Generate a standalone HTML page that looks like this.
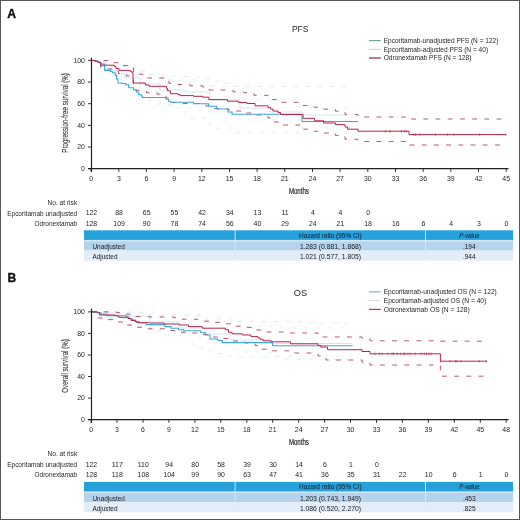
<!DOCTYPE html>
<html><head><meta charset="utf-8"><style>
html,body{margin:0;padding:0;background:#fff;overflow:hidden;width:520px;height:520px;}
svg{display:block;font-family:"Liberation Sans", sans-serif;filter:blur(0.3px);}
</style></head><body>
<svg width="520" height="520" viewBox="0 0 520 520">
<rect x="0.5" y="0.5" width="519" height="519" fill="#fff" stroke="#565656" stroke-width="1"/>
<text x="7.3" y="17.5" font-size="12.2" text-anchor="start" fill="#111" font-weight="bold" stroke="#111" stroke-width="0.35">A</text>
<text x="7.5" y="281.7" font-size="12.0" text-anchor="start" fill="#111" font-weight="bold" stroke="#111" stroke-width="0.35">B</text>
<text x="292.0" y="31.7" font-size="9.4" text-anchor="start" fill="#262626" font-weight="normal" textLength="16.4" lengthAdjust="spacingAndGlyphs" >PFS</text>
<line x1="369" y1="40.6" x2="380.8" y2="40.6" stroke="#6f9ba3" stroke-width="1.1"/>
<text x="383.7" y="43.0" font-size="7" text-anchor="start" fill="#262626" font-weight="normal" textLength="114.7" lengthAdjust="spacingAndGlyphs" >Epcoritamab-unadjusted PFS (N = 122)</text>
<line x1="369" y1="49.4" x2="380.8" y2="49.4" stroke="#cbcbe6" stroke-width="1.0"/>
<text x="383.7" y="51.8" font-size="7" text-anchor="start" fill="#262626" font-weight="normal" textLength="104.4" lengthAdjust="spacingAndGlyphs" >Epcoritamab-adjusted PFS (N = 40)</text>
<line x1="369" y1="58.0" x2="380.8" y2="58.0" stroke="#8c3a52" stroke-width="1.3"/>
<text x="383.7" y="60.4" font-size="7" text-anchor="start" fill="#262626" font-weight="normal" textLength="87.7" lengthAdjust="spacingAndGlyphs" >Odronextamab PFS (N = 128)</text>
<line x1="88" y1="168.7" x2="91.3" y2="168.7" stroke="#231f20" stroke-width="0.9"/>
<text x="84.9" y="171.1" font-size="6.9" text-anchor="end" fill="#262626" font-weight="normal" >0</text>
<line x1="88" y1="147.0" x2="91.3" y2="147.0" stroke="#231f20" stroke-width="0.9"/>
<text x="84.9" y="149.44" font-size="6.9" text-anchor="end" fill="#262626" font-weight="normal" >20</text>
<line x1="88" y1="125.4" x2="91.3" y2="125.4" stroke="#231f20" stroke-width="0.9"/>
<text x="84.9" y="127.78" font-size="6.9" text-anchor="end" fill="#262626" font-weight="normal" >40</text>
<line x1="88" y1="103.7" x2="91.3" y2="103.7" stroke="#231f20" stroke-width="0.9"/>
<text x="84.9" y="106.12" font-size="6.9" text-anchor="end" fill="#262626" font-weight="normal" >60</text>
<line x1="88" y1="82.1" x2="91.3" y2="82.1" stroke="#231f20" stroke-width="0.9"/>
<text x="84.9" y="84.46000000000001" font-size="6.9" text-anchor="end" fill="#262626" font-weight="normal" >80</text>
<line x1="88" y1="60.4" x2="91.3" y2="60.4" stroke="#231f20" stroke-width="0.9"/>
<text x="84.9" y="62.800000000000004" font-size="6.9" text-anchor="end" fill="#262626" font-weight="normal" >100</text>
<text transform="translate(68.0,112.9) rotate(-90)" x="0" y="0" font-size="9.4" text-anchor="middle" fill="#333" stroke="#333" stroke-width="0.1" textLength="79.6" lengthAdjust="spacingAndGlyphs">Progression-free survival (%)</text>
<line x1="91.1" y1="168.7" x2="91.1" y2="171.89999999999998" stroke="#231f20" stroke-width="0.9"/>
<text x="91.1" y="181.0" font-size="6.9" text-anchor="middle" fill="#262626" font-weight="normal" >0</text>
<line x1="118.8" y1="168.7" x2="118.8" y2="171.89999999999998" stroke="#231f20" stroke-width="0.9"/>
<text x="118.8" y="181.0" font-size="6.9" text-anchor="middle" fill="#262626" font-weight="normal" >3</text>
<line x1="146.4" y1="168.7" x2="146.4" y2="171.89999999999998" stroke="#231f20" stroke-width="0.9"/>
<text x="146.4" y="181.0" font-size="6.9" text-anchor="middle" fill="#262626" font-weight="normal" >6</text>
<line x1="174.1" y1="168.7" x2="174.1" y2="171.89999999999998" stroke="#231f20" stroke-width="0.9"/>
<text x="174.1" y="181.0" font-size="6.9" text-anchor="middle" fill="#262626" font-weight="normal" >9</text>
<line x1="201.8" y1="168.7" x2="201.8" y2="171.89999999999998" stroke="#231f20" stroke-width="0.9"/>
<text x="201.8" y="181.0" font-size="6.9" text-anchor="middle" fill="#262626" font-weight="normal" >12</text>
<line x1="229.5" y1="168.7" x2="229.5" y2="171.89999999999998" stroke="#231f20" stroke-width="0.9"/>
<text x="229.5" y="181.0" font-size="6.9" text-anchor="middle" fill="#262626" font-weight="normal" >15</text>
<line x1="257.1" y1="168.7" x2="257.1" y2="171.89999999999998" stroke="#231f20" stroke-width="0.9"/>
<text x="257.1" y="181.0" font-size="6.9" text-anchor="middle" fill="#262626" font-weight="normal" >18</text>
<line x1="284.8" y1="168.7" x2="284.8" y2="171.89999999999998" stroke="#231f20" stroke-width="0.9"/>
<text x="284.8" y="181.0" font-size="6.9" text-anchor="middle" fill="#262626" font-weight="normal" >21</text>
<line x1="312.5" y1="168.7" x2="312.5" y2="171.89999999999998" stroke="#231f20" stroke-width="0.9"/>
<text x="312.5" y="181.0" font-size="6.9" text-anchor="middle" fill="#262626" font-weight="normal" >24</text>
<line x1="340.1" y1="168.7" x2="340.1" y2="171.89999999999998" stroke="#231f20" stroke-width="0.9"/>
<text x="340.1" y="181.0" font-size="6.9" text-anchor="middle" fill="#262626" font-weight="normal" >27</text>
<line x1="367.8" y1="168.7" x2="367.8" y2="171.89999999999998" stroke="#231f20" stroke-width="0.9"/>
<text x="367.8" y="181.0" font-size="6.9" text-anchor="middle" fill="#262626" font-weight="normal" >30</text>
<line x1="395.5" y1="168.7" x2="395.5" y2="171.89999999999998" stroke="#231f20" stroke-width="0.9"/>
<text x="395.5" y="181.0" font-size="6.9" text-anchor="middle" fill="#262626" font-weight="normal" >33</text>
<line x1="423.2" y1="168.7" x2="423.2" y2="171.89999999999998" stroke="#231f20" stroke-width="0.9"/>
<text x="423.2" y="181.0" font-size="6.9" text-anchor="middle" fill="#262626" font-weight="normal" >36</text>
<line x1="450.8" y1="168.7" x2="450.8" y2="171.89999999999998" stroke="#231f20" stroke-width="0.9"/>
<text x="450.8" y="181.0" font-size="6.9" text-anchor="middle" fill="#262626" font-weight="normal" >39</text>
<line x1="478.5" y1="168.7" x2="478.5" y2="171.89999999999998" stroke="#231f20" stroke-width="0.9"/>
<text x="478.5" y="181.0" font-size="6.9" text-anchor="middle" fill="#262626" font-weight="normal" >42</text>
<line x1="506.2" y1="168.7" x2="506.2" y2="171.89999999999998" stroke="#231f20" stroke-width="0.9"/>
<text x="506.2" y="181.0" font-size="6.9" text-anchor="middle" fill="#262626" font-weight="normal" >45</text>
<text x="298.9" y="193.6" font-size="8.8" text-anchor="middle" fill="#262626" font-weight="normal" textLength="20" lengthAdjust="spacingAndGlyphs" stroke="#262626" stroke-width="0.2">Months</text>
<text x="77.2" y="205.0" font-size="6.6" text-anchor="end" fill="#262626" font-weight="normal" >No. at risk</text>
<text x="77.2" y="215.6" font-size="6.6" text-anchor="end" fill="#262626" font-weight="normal" textLength="70" lengthAdjust="spacingAndGlyphs" >Epcoritamab unadjusted</text>
<text x="77.2" y="225.6" font-size="6.6" text-anchor="end" fill="#262626" font-weight="normal" textLength="42.6" lengthAdjust="spacingAndGlyphs" >Odronextamab</text>
<text x="91.39999999999999" y="215.4" font-size="6.9" text-anchor="middle" fill="#262626" font-weight="normal" >122</text>
<text x="119.1" y="215.4" font-size="6.9" text-anchor="middle" fill="#262626" font-weight="normal" >88</text>
<text x="146.70000000000002" y="215.4" font-size="6.9" text-anchor="middle" fill="#262626" font-weight="normal" >65</text>
<text x="174.4" y="215.4" font-size="6.9" text-anchor="middle" fill="#262626" font-weight="normal" >55</text>
<text x="202.10000000000002" y="215.4" font-size="6.9" text-anchor="middle" fill="#262626" font-weight="normal" >42</text>
<text x="229.8" y="215.4" font-size="6.9" text-anchor="middle" fill="#262626" font-weight="normal" >34</text>
<text x="257.40000000000003" y="215.4" font-size="6.9" text-anchor="middle" fill="#262626" font-weight="normal" >13</text>
<text x="285.1" y="215.4" font-size="6.9" text-anchor="middle" fill="#262626" font-weight="normal" >11</text>
<text x="312.8" y="215.4" font-size="6.9" text-anchor="middle" fill="#262626" font-weight="normal" >4</text>
<text x="340.40000000000003" y="215.4" font-size="6.9" text-anchor="middle" fill="#262626" font-weight="normal" >4</text>
<text x="368.1" y="215.4" font-size="6.9" text-anchor="middle" fill="#262626" font-weight="normal" >0</text>
<text x="91.39999999999999" y="225.6" font-size="6.9" text-anchor="middle" fill="#262626" font-weight="normal" >128</text>
<text x="119.1" y="225.6" font-size="6.9" text-anchor="middle" fill="#262626" font-weight="normal" >109</text>
<text x="146.70000000000002" y="225.6" font-size="6.9" text-anchor="middle" fill="#262626" font-weight="normal" >90</text>
<text x="174.4" y="225.6" font-size="6.9" text-anchor="middle" fill="#262626" font-weight="normal" >78</text>
<text x="202.10000000000002" y="225.6" font-size="6.9" text-anchor="middle" fill="#262626" font-weight="normal" >74</text>
<text x="229.8" y="225.6" font-size="6.9" text-anchor="middle" fill="#262626" font-weight="normal" >56</text>
<text x="257.40000000000003" y="225.6" font-size="6.9" text-anchor="middle" fill="#262626" font-weight="normal" >40</text>
<text x="285.1" y="225.6" font-size="6.9" text-anchor="middle" fill="#262626" font-weight="normal" >29</text>
<text x="312.8" y="225.6" font-size="6.9" text-anchor="middle" fill="#262626" font-weight="normal" >24</text>
<text x="340.40000000000003" y="225.6" font-size="6.9" text-anchor="middle" fill="#262626" font-weight="normal" >21</text>
<text x="368.1" y="225.6" font-size="6.9" text-anchor="middle" fill="#262626" font-weight="normal" >18</text>
<text x="395.8" y="225.6" font-size="6.9" text-anchor="middle" fill="#262626" font-weight="normal" >16</text>
<text x="423.5" y="225.6" font-size="6.9" text-anchor="middle" fill="#262626" font-weight="normal" >6</text>
<text x="451.1" y="225.6" font-size="6.9" text-anchor="middle" fill="#262626" font-weight="normal" >4</text>
<text x="478.8" y="225.6" font-size="6.9" text-anchor="middle" fill="#262626" font-weight="normal" >3</text>
<text x="506.5" y="225.6" font-size="6.9" text-anchor="middle" fill="#262626" font-weight="normal" >0</text>
<rect x="84" y="230.3" width="429" height="9.9" fill="#27a1da"/>
<rect x="84" y="239.9" width="429" height="1.4" fill="#cfe6f6"/>
<rect x="84" y="241.3" width="429" height="9.3" fill="#b5d3ed"/>
<rect x="84" y="250.60000000000002" width="429" height="10.1" fill="#e3edf9"/>
<line x1="235.1" y1="230.3" x2="235.1" y2="260.5" stroke="#cfeefc" stroke-width="0.9"/>
<line x1="425.5" y1="230.3" x2="425.5" y2="260.5" stroke="#cfeefc" stroke-width="0.9"/>
<text x="330.3" y="237.70000000000002" font-size="6.7" text-anchor="middle" fill="#16304c" font-weight="normal" textLength="62.5" lengthAdjust="spacingAndGlyphs" stroke="#16304c" stroke-width="0.12">Hazard ratio (95% CI)</text>
<text x="469.4" y="237.70000000000002" font-size="6.8" text-anchor="middle" fill="#16304c" stroke="#16304c" stroke-width="0.12" textLength="20.5" lengthAdjust="spacingAndGlyphs"><tspan font-style="italic">P</tspan>-value</text>
<text x="92.5" y="249.00000000000003" font-size="6.8" text-anchor="start" fill="#222" font-weight="normal" textLength="32.3" lengthAdjust="spacingAndGlyphs" >Unadjusted</text>
<text x="330.5" y="249.00000000000003" font-size="6.6" text-anchor="middle" fill="#222" font-weight="normal" textLength="61.2" lengthAdjust="spacingAndGlyphs" >1.283 (0.881, 1.868)</text>
<text x="469.3" y="249.00000000000003" font-size="6.6" text-anchor="middle" fill="#222" font-weight="normal" >.194</text>
<text x="92.5" y="259.0" font-size="6.8" text-anchor="start" fill="#222" font-weight="normal" textLength="25.0" lengthAdjust="spacingAndGlyphs" >Adjusted</text>
<text x="330.5" y="259.0" font-size="6.6" text-anchor="middle" fill="#222" font-weight="normal" textLength="61.2" lengthAdjust="spacingAndGlyphs" >1.021 (0.577, 1.805)</text>
<text x="469.3" y="259.0" font-size="6.6" text-anchor="middle" fill="#222" font-weight="normal" >.944</text>
<text x="293.8" y="295.9" font-size="9.4" text-anchor="start" fill="#262626" font-weight="normal" textLength="13.3" lengthAdjust="spacingAndGlyphs" >OS</text>
<line x1="369" y1="291.8" x2="380.8" y2="291.8" stroke="#9fc3dc" stroke-width="1.6"/>
<text x="383.7" y="294.2" font-size="7" text-anchor="start" fill="#262626" font-weight="normal" textLength="113.1" lengthAdjust="spacingAndGlyphs" >Epcoritamab-unadjusted OS (N = 122)</text>
<line x1="369" y1="300.4" x2="380.8" y2="300.4" stroke="#d6d8e2" stroke-width="1.0"/>
<text x="383.7" y="302.79999999999995" font-size="7" text-anchor="start" fill="#262626" font-weight="normal" textLength="102.6" lengthAdjust="spacingAndGlyphs" >Epcoritamab-adjusted OS (N = 40)</text>
<line x1="369" y1="309.4" x2="380.8" y2="309.4" stroke="#a83a5a" stroke-width="1.2"/>
<text x="383.7" y="311.79999999999995" font-size="7" text-anchor="start" fill="#262626" font-weight="normal" textLength="86.0" lengthAdjust="spacingAndGlyphs" >Odronextamab OS (N = 128)</text>
<line x1="88" y1="419.6" x2="91.3" y2="419.6" stroke="#231f20" stroke-width="0.9"/>
<text x="84.9" y="422.0" font-size="6.9" text-anchor="end" fill="#262626" font-weight="normal" >0</text>
<line x1="88" y1="398.1" x2="91.3" y2="398.1" stroke="#231f20" stroke-width="0.9"/>
<text x="84.9" y="400.46" font-size="6.9" text-anchor="end" fill="#262626" font-weight="normal" >20</text>
<line x1="88" y1="376.5" x2="91.3" y2="376.5" stroke="#231f20" stroke-width="0.9"/>
<text x="84.9" y="378.91999999999996" font-size="6.9" text-anchor="end" fill="#262626" font-weight="normal" >40</text>
<line x1="88" y1="355.0" x2="91.3" y2="355.0" stroke="#231f20" stroke-width="0.9"/>
<text x="84.9" y="357.38" font-size="6.9" text-anchor="end" fill="#262626" font-weight="normal" >60</text>
<line x1="88" y1="333.4" x2="91.3" y2="333.4" stroke="#231f20" stroke-width="0.9"/>
<text x="84.9" y="335.84" font-size="6.9" text-anchor="end" fill="#262626" font-weight="normal" >80</text>
<line x1="88" y1="311.9" x2="91.3" y2="311.9" stroke="#231f20" stroke-width="0.9"/>
<text x="84.9" y="314.29999999999995" font-size="6.9" text-anchor="end" fill="#262626" font-weight="normal" >100</text>
<text transform="translate(68.0,366.0) rotate(-90)" x="0" y="0" font-size="9.4" text-anchor="middle" fill="#333" stroke="#333" stroke-width="0.1" textLength="53.5" lengthAdjust="spacingAndGlyphs">Overall survival (%)</text>
<line x1="91.1" y1="419.6" x2="91.1" y2="422.8" stroke="#231f20" stroke-width="0.9"/>
<text x="91.1" y="431.90000000000003" font-size="6.9" text-anchor="middle" fill="#262626" font-weight="normal" >0</text>
<line x1="117.0" y1="419.6" x2="117.0" y2="422.8" stroke="#231f20" stroke-width="0.9"/>
<text x="117.0" y="431.90000000000003" font-size="6.9" text-anchor="middle" fill="#262626" font-weight="normal" >3</text>
<line x1="143.0" y1="419.6" x2="143.0" y2="422.8" stroke="#231f20" stroke-width="0.9"/>
<text x="143.0" y="431.90000000000003" font-size="6.9" text-anchor="middle" fill="#262626" font-weight="normal" >6</text>
<line x1="168.9" y1="419.6" x2="168.9" y2="422.8" stroke="#231f20" stroke-width="0.9"/>
<text x="168.9" y="431.90000000000003" font-size="6.9" text-anchor="middle" fill="#262626" font-weight="normal" >9</text>
<line x1="194.9" y1="419.6" x2="194.9" y2="422.8" stroke="#231f20" stroke-width="0.9"/>
<text x="194.9" y="431.90000000000003" font-size="6.9" text-anchor="middle" fill="#262626" font-weight="normal" >12</text>
<line x1="220.8" y1="419.6" x2="220.8" y2="422.8" stroke="#231f20" stroke-width="0.9"/>
<text x="220.8" y="431.90000000000003" font-size="6.9" text-anchor="middle" fill="#262626" font-weight="normal" >15</text>
<line x1="246.8" y1="419.6" x2="246.8" y2="422.8" stroke="#231f20" stroke-width="0.9"/>
<text x="246.8" y="431.90000000000003" font-size="6.9" text-anchor="middle" fill="#262626" font-weight="normal" >18</text>
<line x1="272.7" y1="419.6" x2="272.7" y2="422.8" stroke="#231f20" stroke-width="0.9"/>
<text x="272.7" y="431.90000000000003" font-size="6.9" text-anchor="middle" fill="#262626" font-weight="normal" >21</text>
<line x1="298.7" y1="419.6" x2="298.7" y2="422.8" stroke="#231f20" stroke-width="0.9"/>
<text x="298.7" y="431.90000000000003" font-size="6.9" text-anchor="middle" fill="#262626" font-weight="normal" >24</text>
<line x1="324.6" y1="419.6" x2="324.6" y2="422.8" stroke="#231f20" stroke-width="0.9"/>
<text x="324.6" y="431.90000000000003" font-size="6.9" text-anchor="middle" fill="#262626" font-weight="normal" >27</text>
<line x1="350.5" y1="419.6" x2="350.5" y2="422.8" stroke="#231f20" stroke-width="0.9"/>
<text x="350.5" y="431.90000000000003" font-size="6.9" text-anchor="middle" fill="#262626" font-weight="normal" >30</text>
<line x1="376.5" y1="419.6" x2="376.5" y2="422.8" stroke="#231f20" stroke-width="0.9"/>
<text x="376.5" y="431.90000000000003" font-size="6.9" text-anchor="middle" fill="#262626" font-weight="normal" >33</text>
<line x1="402.4" y1="419.6" x2="402.4" y2="422.8" stroke="#231f20" stroke-width="0.9"/>
<text x="402.4" y="431.90000000000003" font-size="6.9" text-anchor="middle" fill="#262626" font-weight="normal" >36</text>
<line x1="428.4" y1="419.6" x2="428.4" y2="422.8" stroke="#231f20" stroke-width="0.9"/>
<text x="428.4" y="431.90000000000003" font-size="6.9" text-anchor="middle" fill="#262626" font-weight="normal" >39</text>
<line x1="454.3" y1="419.6" x2="454.3" y2="422.8" stroke="#231f20" stroke-width="0.9"/>
<text x="454.3" y="431.90000000000003" font-size="6.9" text-anchor="middle" fill="#262626" font-weight="normal" >42</text>
<line x1="480.3" y1="419.6" x2="480.3" y2="422.8" stroke="#231f20" stroke-width="0.9"/>
<text x="480.3" y="431.90000000000003" font-size="6.9" text-anchor="middle" fill="#262626" font-weight="normal" >45</text>
<line x1="506.2" y1="419.6" x2="506.2" y2="422.8" stroke="#231f20" stroke-width="0.9"/>
<text x="506.2" y="431.90000000000003" font-size="6.9" text-anchor="middle" fill="#262626" font-weight="normal" >48</text>
<text x="298.9" y="444.5" font-size="8.8" text-anchor="middle" fill="#262626" font-weight="normal" textLength="20" lengthAdjust="spacingAndGlyphs" stroke="#262626" stroke-width="0.2">Months</text>
<text x="77.2" y="456.3" font-size="6.6" text-anchor="end" fill="#262626" font-weight="normal" >No. at risk</text>
<text x="77.2" y="466.9" font-size="6.6" text-anchor="end" fill="#262626" font-weight="normal" textLength="70" lengthAdjust="spacingAndGlyphs" >Epcoritamab unadjusted</text>
<text x="77.2" y="476.9" font-size="6.6" text-anchor="end" fill="#262626" font-weight="normal" textLength="42.6" lengthAdjust="spacingAndGlyphs" >Odronextamab</text>
<text x="91.39999999999999" y="466.70000000000005" font-size="6.9" text-anchor="middle" fill="#262626" font-weight="normal" >122</text>
<text x="117.3" y="466.70000000000005" font-size="6.9" text-anchor="middle" fill="#262626" font-weight="normal" >117</text>
<text x="143.3" y="466.70000000000005" font-size="6.9" text-anchor="middle" fill="#262626" font-weight="normal" >110</text>
<text x="169.20000000000002" y="466.70000000000005" font-size="6.9" text-anchor="middle" fill="#262626" font-weight="normal" >94</text>
<text x="195.20000000000002" y="466.70000000000005" font-size="6.9" text-anchor="middle" fill="#262626" font-weight="normal" >80</text>
<text x="221.10000000000002" y="466.70000000000005" font-size="6.9" text-anchor="middle" fill="#262626" font-weight="normal" >58</text>
<text x="247.10000000000002" y="466.70000000000005" font-size="6.9" text-anchor="middle" fill="#262626" font-weight="normal" >39</text>
<text x="273.0" y="466.70000000000005" font-size="6.9" text-anchor="middle" fill="#262626" font-weight="normal" >30</text>
<text x="299.0" y="466.70000000000005" font-size="6.9" text-anchor="middle" fill="#262626" font-weight="normal" >14</text>
<text x="324.90000000000003" y="466.70000000000005" font-size="6.9" text-anchor="middle" fill="#262626" font-weight="normal" >6</text>
<text x="350.8" y="466.70000000000005" font-size="6.9" text-anchor="middle" fill="#262626" font-weight="normal" >1</text>
<text x="376.8" y="466.70000000000005" font-size="6.9" text-anchor="middle" fill="#262626" font-weight="normal" >0</text>
<text x="91.39999999999999" y="476.9" font-size="6.9" text-anchor="middle" fill="#262626" font-weight="normal" >128</text>
<text x="117.3" y="476.9" font-size="6.9" text-anchor="middle" fill="#262626" font-weight="normal" >118</text>
<text x="143.3" y="476.9" font-size="6.9" text-anchor="middle" fill="#262626" font-weight="normal" >108</text>
<text x="169.20000000000002" y="476.9" font-size="6.9" text-anchor="middle" fill="#262626" font-weight="normal" >104</text>
<text x="195.20000000000002" y="476.9" font-size="6.9" text-anchor="middle" fill="#262626" font-weight="normal" >99</text>
<text x="221.10000000000002" y="476.9" font-size="6.9" text-anchor="middle" fill="#262626" font-weight="normal" >90</text>
<text x="247.10000000000002" y="476.9" font-size="6.9" text-anchor="middle" fill="#262626" font-weight="normal" >63</text>
<text x="273.0" y="476.9" font-size="6.9" text-anchor="middle" fill="#262626" font-weight="normal" >47</text>
<text x="299.0" y="476.9" font-size="6.9" text-anchor="middle" fill="#262626" font-weight="normal" >41</text>
<text x="324.90000000000003" y="476.9" font-size="6.9" text-anchor="middle" fill="#262626" font-weight="normal" >36</text>
<text x="350.8" y="476.9" font-size="6.9" text-anchor="middle" fill="#262626" font-weight="normal" >35</text>
<text x="376.8" y="476.9" font-size="6.9" text-anchor="middle" fill="#262626" font-weight="normal" >31</text>
<text x="402.7" y="476.9" font-size="6.9" text-anchor="middle" fill="#262626" font-weight="normal" >22</text>
<text x="428.7" y="476.9" font-size="6.9" text-anchor="middle" fill="#262626" font-weight="normal" >10</text>
<text x="454.6" y="476.9" font-size="6.9" text-anchor="middle" fill="#262626" font-weight="normal" >6</text>
<text x="480.6" y="476.9" font-size="6.9" text-anchor="middle" fill="#262626" font-weight="normal" >1</text>
<text x="506.5" y="476.9" font-size="6.9" text-anchor="middle" fill="#262626" font-weight="normal" >0</text>
<rect x="84" y="481.9" width="429" height="9.9" fill="#27a1da"/>
<rect x="84" y="491.5" width="429" height="1.4" fill="#cfe6f6"/>
<rect x="84" y="492.9" width="429" height="9.3" fill="#b5d3ed"/>
<rect x="84" y="502.2" width="429" height="10.1" fill="#e3edf9"/>
<line x1="235.1" y1="481.9" x2="235.1" y2="512.1" stroke="#cfeefc" stroke-width="0.9"/>
<line x1="425.5" y1="481.9" x2="425.5" y2="512.1" stroke="#cfeefc" stroke-width="0.9"/>
<text x="330.3" y="489.29999999999995" font-size="6.7" text-anchor="middle" fill="#16304c" font-weight="normal" textLength="62.5" lengthAdjust="spacingAndGlyphs" stroke="#16304c" stroke-width="0.12">Hazard ratio (95% CI)</text>
<text x="469.4" y="489.29999999999995" font-size="6.8" text-anchor="middle" fill="#16304c" stroke="#16304c" stroke-width="0.12" textLength="20.5" lengthAdjust="spacingAndGlyphs"><tspan font-style="italic">P</tspan>-value</text>
<text x="92.5" y="500.59999999999997" font-size="6.8" text-anchor="start" fill="#222" font-weight="normal" textLength="32.3" lengthAdjust="spacingAndGlyphs" >Unadjusted</text>
<text x="330.5" y="500.59999999999997" font-size="6.6" text-anchor="middle" fill="#222" font-weight="normal" textLength="61.2" lengthAdjust="spacingAndGlyphs" >1.203 (0.743, 1.949)</text>
<text x="469.3" y="500.59999999999997" font-size="6.6" text-anchor="middle" fill="#222" font-weight="normal" >.453</text>
<text x="92.5" y="510.59999999999997" font-size="6.8" text-anchor="start" fill="#222" font-weight="normal" textLength="25.0" lengthAdjust="spacingAndGlyphs" >Adjusted</text>
<text x="330.5" y="510.59999999999997" font-size="6.6" text-anchor="middle" fill="#222" font-weight="normal" textLength="61.2" lengthAdjust="spacingAndGlyphs" >1.086 (0.520, 2.270)</text>
<text x="469.3" y="510.59999999999997" font-size="6.6" text-anchor="middle" fill="#222" font-weight="normal" >.825</text>
<polyline points="91.5,60.5 104.0,60.5 104.0,61.5 115.0,61.5 115.0,64.0 125.0,64.0 125.0,67.5 135.0,67.5 135.0,71.0 150.0,71.0 150.0,74.4 163.0,74.4 163.0,76.0 178.0,76.0 178.0,76.5 188.0,76.5 188.0,77.0 199.0,77.0 199.0,78.3 209.0,78.3 209.0,81.0 219.0,81.0 219.0,83.0 234.0,83.0 234.0,86.5 354.0,86.5 354.0,86.5" fill="none" stroke="#e4e8f1" stroke-width="0.9" stroke-dasharray="4.5,7.5" stroke-opacity="1"/>
<polyline points="91.5,60.5 100.0,60.5 100.0,68.0 112.0,68.0 112.0,76.0 125.0,76.0 125.0,84.0 140.0,84.0 140.0,92.0 160.0,92.0 160.0,105.0 185.0,105.0 185.0,118.0 210.0,118.0 210.0,128.0 234.0,128.0 234.0,132.7 316.0,132.7 316.0,132.7" fill="none" stroke="#e4e8f1" stroke-width="0.9" stroke-dasharray="4.5,7.5" stroke-opacity="1"/>
<polyline points="91.5,60.5 104.0,60.5 104.0,62.0 115.0,62.0 115.0,66.0 130.0,66.0 130.0,72.0 150.0,72.0 150.0,78.0 170.0,78.0 170.0,80.0 200.0,80.0 200.0,86.0 240.0,86.0 240.0,100.0 300.0,100.0 300.0,108.0 358.0,108.0 358.0,108.0" fill="none" stroke="#cdeef9" stroke-width="0.9" stroke-dasharray="4.5,7.5" stroke-opacity="0.8"/>
<polyline points="91.5,60.5 104.0,60.5 104.0,66.0 115.0,66.0 115.0,80.0 130.0,80.0 130.0,92.0 150.0,92.0 150.0,104.0 170.0,104.0 170.0,108.0 200.0,108.0 200.0,112.0 240.0,112.0 240.0,120.0 300.0,120.0 300.0,128.0 358.0,128.0 358.0,135.0" fill="none" stroke="#cdeef9" stroke-width="0.9" stroke-dasharray="4.5,7.5" stroke-opacity="0.8"/>
<polyline points="91.5,60.5 100.0,60.5 100.0,63.0 106.0,63.0 106.0,70.0 116.0,70.0 116.0,74.0 125.0,74.0 125.0,78.0 140.0,78.0 140.0,84.0 160.0,84.0 160.0,90.0 185.0,90.0 185.0,92.0 210.0,92.0 210.0,100.0 240.0,100.0 240.0,108.0 270.0,108.0 270.0,112.0 303.0,112.0 303.0,115.0 346.0,115.0 346.0,115.0" fill="none" stroke="#cfe3f1" stroke-width="0.9" stroke-opacity="1"/>
<polyline points="91.5,60.5 108.0,60.5 108.0,61.5 113.0,61.5 113.0,62.7 118.0,62.7 118.0,64.5 121.0,64.5 121.0,65.5 130.0,65.5 130.0,68.0 133.5,68.0 133.5,74.2 143.0,74.2 143.0,76.5 147.0,76.5 147.0,78.0 166.0,78.0 166.0,81.0 169.0,81.0 169.0,83.5 178.0,83.5 178.0,84.5 190.0,84.5 190.0,85.8 203.0,85.8 203.0,87.3 209.0,87.3 209.0,90.0 226.0,90.0 226.0,91.0 234.0,91.0 234.0,92.0 244.0,92.0 244.0,92.7 254.0,92.7 254.0,95.3 268.0,95.3 268.0,96.5 272.0,96.5 272.0,99.6 280.5,99.6 280.5,102.3 303.0,102.3 303.0,105.5 314.0,105.5 314.0,107.2 323.5,107.2 323.5,109.2 335.5,109.2 335.5,111.2 345.0,111.2 345.0,114.6 358.0,114.6 358.0,117.0 409.0,117.0 409.0,119.0 506.0,119.0 506.0,119.0" fill="none" stroke="#b0385a" stroke-width="0.85" stroke-dasharray="4.8,7.4" stroke-opacity="1"/>
<polyline points="91.5,60.5 96.0,60.5 96.0,62.0 100.5,62.0 100.5,67.0 106.0,67.0 106.0,69.0 113.0,69.0 113.0,71.0 118.5,71.0 118.5,73.5 126.5,73.5 126.5,76.0 131.0,76.0 131.0,78.0 133.5,78.0 133.5,88.0 135.7,88.0 135.7,90.4 146.5,90.4 146.5,92.7 157.0,92.7 157.0,94.2 166.0,94.2 166.0,98.0 169.0,98.0 169.0,102.5 176.0,102.5 176.0,103.5 206.0,103.5 206.0,106.0 209.0,106.0 209.0,108.5 228.0,108.5 228.0,110.0 234.0,110.0 234.0,111.0 244.0,111.0 244.0,113.0 254.0,113.0 254.0,115.0 268.0,115.0 268.0,118.0 272.0,118.0 272.0,122.0 280.5,122.0 280.5,125.0 303.0,125.0 303.0,129.2 314.0,129.2 314.0,131.2 323.5,131.2 323.5,133.0 335.5,133.0 335.5,135.4 345.0,135.4 345.0,139.2 358.0,139.2 358.0,141.5 409.0,141.5 409.0,145.0 506.0,145.0 506.0,145.0" fill="none" stroke="#b0385a" stroke-width="0.85" stroke-dasharray="4.8,7.4" stroke-opacity="1"/>
<polyline points="91.5,60.5 95.0,60.5 95.0,61.2 98.0,61.2 98.0,62.3 101.0,62.3 101.0,64.0 104.3,64.0 104.3,66.6 104.6,66.6 104.6,70.4 110.4,70.4 110.4,71.5 112.3,71.5 112.3,72.8 115.2,72.8 115.2,75.2 116.6,75.2 116.6,79.0 118.0,79.0 118.0,83.0 122.0,83.0 122.0,83.5 125.8,83.5 125.8,84.8 128.7,84.8 128.7,87.7 133.5,87.7 133.5,89.7 136.3,89.7 136.3,92.0 138.7,92.0 138.7,94.5 141.0,94.5 141.0,96.0 142.5,96.0 142.5,97.5 166.0,97.5 166.0,99.2 168.5,99.2 168.5,101.3 170.4,101.3 170.4,102.3 193.5,102.3 193.5,103.8 208.5,103.8 208.5,106.2 216.5,106.2 216.5,109.0 228.0,109.0 228.0,112.0 232.0,112.0 232.0,114.2 302.0,114.2 302.0,121.5 358.0,121.5 358.0,121.5" fill="none" stroke="#3fa6d6" stroke-width="1.1" stroke-opacity="1"/>
<polyline points="91.5,60.5 95.0,60.5 95.0,61.2 98.0,61.2 98.0,62.3 100.0,62.3 100.0,63.7 101.0,63.7 101.0,65.2 114.2,65.2 114.2,66.5 116.0,66.5 116.0,68.5 119.0,68.5 119.0,70.4 130.6,70.4 130.6,71.5 132.0,71.5 132.0,72.8 133.0,72.8 133.0,83.0 145.4,83.0 145.4,85.0 149.2,85.0 149.2,86.3 166.5,86.3 166.5,88.5 167.5,88.5 167.5,90.8 170.4,90.8 170.4,93.7 178.0,93.7 178.0,94.6 180.0,94.6 180.0,95.6 193.5,95.6 193.5,96.3 203.0,96.3 203.0,97.2 208.8,97.2 208.8,99.6 227.5,99.6 227.5,101.2 238.5,101.2 238.5,102.5 247.0,102.5 247.0,103.5 255.0,103.5 255.0,105.8 268.0,105.8 268.0,107.5 270.5,107.5 270.5,109.0 273.0,109.0 273.0,111.0 278.0,111.0 278.0,112.5 280.5,112.5 280.5,114.5 303.0,114.5 303.0,118.3 314.6,118.3 314.6,120.8 323.5,120.8 323.5,123.0 335.5,123.0 335.5,124.6 345.0,124.6 345.0,127.0 347.5,127.0 347.5,129.2 358.0,129.2 358.0,131.2 409.0,131.2 409.0,134.6 506.0,134.6 506.0,134.6" fill="none" stroke="#bb2446" stroke-width="1.0" stroke-opacity="1"/>
<line x1="385.4" y1="129.89999999999998" x2="385.4" y2="132.5" stroke="#bb2446" stroke-width="0.6"/>
<line x1="390" y1="129.89999999999998" x2="390" y2="132.5" stroke="#bb2446" stroke-width="0.6"/>
<line x1="401.5" y1="129.89999999999998" x2="401.5" y2="132.5" stroke="#bb2446" stroke-width="0.6"/>
<line x1="404.6" y1="129.89999999999998" x2="404.6" y2="132.5" stroke="#bb2446" stroke-width="0.6"/>
<line x1="406.2" y1="129.89999999999998" x2="406.2" y2="132.5" stroke="#bb2446" stroke-width="0.6"/>
<line x1="413.8" y1="133.29999999999998" x2="413.8" y2="135.9" stroke="#bb2446" stroke-width="0.6"/>
<line x1="415.4" y1="133.29999999999998" x2="415.4" y2="135.9" stroke="#bb2446" stroke-width="0.6"/>
<line x1="420" y1="133.29999999999998" x2="420" y2="135.9" stroke="#bb2446" stroke-width="0.6"/>
<line x1="435.4" y1="133.29999999999998" x2="435.4" y2="135.9" stroke="#bb2446" stroke-width="0.6"/>
<line x1="447.4" y1="133.29999999999998" x2="447.4" y2="135.9" stroke="#bb2446" stroke-width="0.6"/>
<line x1="454.2" y1="133.29999999999998" x2="454.2" y2="135.9" stroke="#bb2446" stroke-width="0.6"/>
<line x1="479.7" y1="133.29999999999998" x2="479.7" y2="135.9" stroke="#bb2446" stroke-width="0.6"/>
<line x1="505.8" y1="133.29999999999998" x2="505.8" y2="135.9" stroke="#bb2446" stroke-width="0.6"/>
<polyline points="91.5,311.9 120.0,311.9 120.0,312.0 160.0,312.0 160.0,316.0 200.0,316.0 200.0,318.0 235.0,318.0 235.0,321.5 305.0,321.5 305.0,323.0 352.0,323.0 352.0,323.0" fill="none" stroke="#e4e8f1" stroke-width="0.9" stroke-dasharray="4.5,7.5" stroke-opacity="1"/>
<polyline points="91.5,311.9 100.0,311.9 100.0,318.0 130.0,318.0 130.0,326.0 160.0,326.0 160.0,335.0 190.0,335.0 190.0,344.0 202.0,344.0 202.0,350.8 212.0,350.8 212.0,353.5 221.5,353.5 221.5,356.0 235.0,356.0 235.0,357.0 280.0,357.0 280.0,359.2 352.0,359.2 352.0,359.2" fill="none" stroke="#e4e8f1" stroke-width="0.9" stroke-dasharray="4.5,7.5" stroke-opacity="1"/>
<polyline points="91.5,311.9 110.0,311.9 110.0,312.5 150.0,312.5 150.0,314.5 200.0,314.5 200.0,320.0 240.0,320.0 240.0,326.0 272.0,326.0 272.0,328.0 352.0,328.0 352.0,328.0" fill="none" stroke="#cdeef9" stroke-width="0.9" stroke-dasharray="4.5,7.5" stroke-opacity="0.8"/>
<polyline points="91.5,311.9 110.0,311.9 110.0,318.0 150.0,318.0 150.0,331.0 200.0,331.0 200.0,341.0 240.0,341.0 240.0,352.0 272.0,352.0 272.0,356.0 352.0,356.0 352.0,356.0" fill="none" stroke="#cdeef9" stroke-width="0.9" stroke-dasharray="4.5,7.5" stroke-opacity="0.8"/>
<polyline points="91.5,311.9 100.0,311.9 100.0,313.0 120.0,313.0 120.0,316.0 150.0,316.0 150.0,322.0 180.0,322.0 180.0,328.0 205.0,328.0 205.0,334.0 230.0,334.0 230.0,340.0 272.0,340.0 272.0,343.5 352.0,343.5 352.0,343.5" fill="none" stroke="#cfe3f1" stroke-width="0.9" stroke-opacity="1"/>
<polyline points="91.5,311.9 116.5,311.9 116.5,312.7 125.0,312.7 125.0,314.2 133.0,314.2 133.0,316.5 149.5,316.5 149.5,317.0 173.8,317.0 173.8,317.7 182.0,317.7 182.0,319.2 197.0,319.2 197.0,319.7 203.0,319.7 203.0,321.2 214.0,321.2 214.0,322.3 226.0,322.3 226.0,323.8 232.0,323.8 232.0,326.2 245.0,326.2 245.0,327.4 256.0,327.4 256.0,330.0 265.0,330.0 265.0,332.0 290.5,332.0 290.5,333.0 318.0,333.0 318.0,333.8 322.0,333.8 322.0,337.0 362.0,337.0 362.0,338.5 370.0,338.5 370.0,340.8 440.4,340.8 440.4,341.2 487.0,341.2 487.0,341.2" fill="none" stroke="#b0385a" stroke-width="0.85" stroke-dasharray="4.8,7.4" stroke-opacity="1"/>
<polyline points="91.5,311.9 97.5,311.9 97.5,318.0 108.0,318.0 108.0,319.6 116.0,319.6 116.0,322.0 127.0,322.0 127.0,325.0 137.0,325.0 137.0,327.3 147.0,327.3 147.0,328.8 165.0,328.8 165.0,330.5 175.0,330.5 175.0,332.3 190.0,332.3 190.0,333.0 200.0,333.0 200.0,334.6 211.0,334.6 211.0,337.0 222.0,337.0 222.0,338.5 232.0,338.5 232.0,341.0 245.0,341.0 245.0,343.0 255.0,343.0 255.0,345.4 262.0,345.4 262.0,349.2 272.0,349.2 272.0,350.8 290.5,350.8 290.5,353.0 318.0,353.0 318.0,356.0 326.0,356.0 326.0,360.0 362.0,360.0 362.0,362.3 370.0,362.3 370.0,365.0 440.4,365.0 440.4,376.2 487.0,376.2 487.0,376.2" fill="none" stroke="#b0385a" stroke-width="0.85" stroke-dasharray="4.8,7.4" stroke-opacity="1"/>
<polyline points="91.5,311.9 97.2,311.9 97.2,312.7 101.0,312.7 101.0,314.2 107.0,314.2 107.0,315.8 126.5,315.8 126.5,317.0 129.0,317.0 129.0,318.5 132.0,318.5 132.0,320.0 135.0,320.0 135.0,321.5 139.0,321.5 139.0,322.7 146.0,322.7 146.0,324.6 165.0,324.6 165.0,326.6 171.0,326.6 171.0,328.2 178.5,328.2 178.5,329.7 183.8,329.7 183.8,330.8 200.8,330.8 200.8,332.8 205.4,332.8 205.4,335.0 210.0,335.0 210.0,339.0 217.7,339.0 217.7,340.5 222.3,340.5 222.3,342.6 272.5,342.6 272.5,345.8 352.7,345.8 352.7,345.8" fill="none" stroke="#3fa6d6" stroke-width="1.1" stroke-opacity="1"/>
<polyline points="91.5,311.9 97.2,311.9 97.2,312.7 99.5,312.7 99.5,315.0 115.7,315.0 115.7,315.8 118.8,315.8 118.8,317.3 128.0,317.3 128.0,318.5 131.0,318.5 131.0,320.4 135.7,320.4 135.7,322.0 137.0,322.0 137.0,322.7 149.5,322.7 149.5,323.0 163.8,323.0 163.8,324.0 179.2,324.0 179.2,325.0 188.5,325.0 188.5,326.6 202.3,326.6 202.3,328.2 225.4,328.2 225.4,329.7 228.5,329.7 228.5,332.3 232.0,332.3 232.0,333.8 242.7,333.8 242.7,335.0 251.0,335.0 251.0,336.6 258.0,336.6 258.0,338.0 260.0,338.0 260.0,339.2 263.0,339.2 263.0,340.8 271.0,340.8 271.0,341.8 290.5,341.8 290.5,343.8 318.0,343.8 318.0,345.5 320.4,345.5 320.4,347.0 327.5,347.0 327.5,349.7 362.0,349.7 362.0,351.5 370.0,351.5 370.0,353.8 440.4,353.8 440.4,361.2 487.0,361.2 487.0,361.2" fill="none" stroke="#bb2446" stroke-width="1.0" stroke-opacity="1"/>
<line x1="375" y1="352.5" x2="375" y2="355.1" stroke="#bb2446" stroke-width="0.6"/>
<line x1="379.6" y1="352.5" x2="379.6" y2="355.1" stroke="#bb2446" stroke-width="0.6"/>
<line x1="382" y1="352.5" x2="382" y2="355.1" stroke="#bb2446" stroke-width="0.6"/>
<line x1="388" y1="352.5" x2="388" y2="355.1" stroke="#bb2446" stroke-width="0.6"/>
<line x1="392" y1="352.5" x2="392" y2="355.1" stroke="#bb2446" stroke-width="0.6"/>
<line x1="393.5" y1="352.5" x2="393.5" y2="355.1" stroke="#bb2446" stroke-width="0.6"/>
<line x1="397.3" y1="352.5" x2="397.3" y2="355.1" stroke="#bb2446" stroke-width="0.6"/>
<line x1="400.4" y1="352.5" x2="400.4" y2="355.1" stroke="#bb2446" stroke-width="0.6"/>
<line x1="403.5" y1="352.5" x2="403.5" y2="355.1" stroke="#bb2446" stroke-width="0.6"/>
<line x1="405" y1="352.5" x2="405" y2="355.1" stroke="#bb2446" stroke-width="0.6"/>
<line x1="408" y1="352.5" x2="408" y2="355.1" stroke="#bb2446" stroke-width="0.6"/>
<line x1="410.4" y1="352.5" x2="410.4" y2="355.1" stroke="#bb2446" stroke-width="0.6"/>
<line x1="415" y1="352.5" x2="415" y2="355.1" stroke="#bb2446" stroke-width="0.6"/>
<line x1="421" y1="352.5" x2="421" y2="355.1" stroke="#bb2446" stroke-width="0.6"/>
<line x1="424.2" y1="352.5" x2="424.2" y2="355.1" stroke="#bb2446" stroke-width="0.6"/>
<line x1="426.5" y1="352.5" x2="426.5" y2="355.1" stroke="#bb2446" stroke-width="0.6"/>
<line x1="428.8" y1="352.5" x2="428.8" y2="355.1" stroke="#bb2446" stroke-width="0.6"/>
<line x1="431.2" y1="352.5" x2="431.2" y2="355.1" stroke="#bb2446" stroke-width="0.6"/>
<line x1="440.8" y1="359.9" x2="440.8" y2="362.5" stroke="#bb2446" stroke-width="0.6"/>
<line x1="450" y1="359.9" x2="450" y2="362.5" stroke="#bb2446" stroke-width="0.6"/>
<line x1="455.4" y1="359.9" x2="455.4" y2="362.5" stroke="#bb2446" stroke-width="0.6"/>
<line x1="457" y1="359.9" x2="457" y2="362.5" stroke="#bb2446" stroke-width="0.6"/>
<line x1="460.8" y1="359.9" x2="460.8" y2="362.5" stroke="#bb2446" stroke-width="0.6"/>
<line x1="479.2" y1="359.9" x2="479.2" y2="362.5" stroke="#bb2446" stroke-width="0.6"/>
<line x1="486.2" y1="359.9" x2="486.2" y2="362.5" stroke="#bb2446" stroke-width="0.6"/>
<line x1="91.5" y1="57.7" x2="91.5" y2="171.89999999999998" stroke="#231f20" stroke-width="1.2"/>
<line x1="88" y1="168.7" x2="508.5" y2="168.7" stroke="#231f20" stroke-width="1.2"/>
<line x1="91.5" y1="308.6" x2="91.5" y2="422.8" stroke="#231f20" stroke-width="1.2"/>
<line x1="88" y1="419.6" x2="508.5" y2="419.6" stroke="#231f20" stroke-width="1.2"/>
</svg></body></html>
